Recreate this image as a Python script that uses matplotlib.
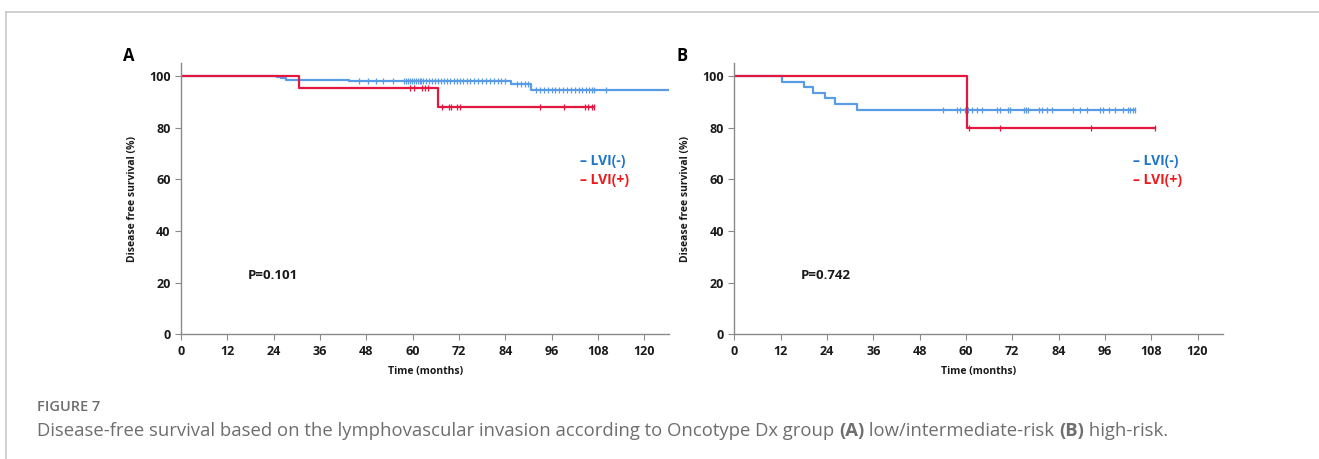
import numpy as np
import matplotlib.pyplot as plt
from matplotlib.lines import Line2D

# Panel A (low/intermediate risk) - step curves: event times and survival after each event
a_neg_times = [0, 24.8, 25.9, 27.2, 43.5, 85.4, 90.7, 128]
a_neg_surv = [100, 99.6, 99.1, 98.5, 97.9, 96.8, 94.6, 94.6]
a_neg_cens = [46.2, 48.5, 50.4, 52.3, 55.0, 57.8, 58.3, 58.8, 59.3, 59.8, 60.3, 60.8, 61.3,
              61.8, 62.3, 62.8, 63.5, 64.2, 65.0, 65.8, 66.6, 67.4, 68.2, 69.0, 69.8, 70.6,
              71.4, 72.2, 73.0, 74.0, 75.0, 76.0, 77.0, 78.0, 79.0, 80.0, 81.0, 82.0, 83.0,
              84.0, 87.0, 88.0, 89.0, 89.8, 92.0, 93.0, 94.0, 95.0, 96.0, 97.0, 98.0, 99.0,
              100.0, 101.0, 102.0, 103.0, 104.0, 104.8, 105.6, 106.4, 107.0, 110.0]
a_pos_times = [0, 30.5, 66.7, 107.0]
a_pos_surv = [100, 95.2, 88.0, 88.0]
a_pos_cens = [59.4, 60.3, 62.4, 63.3, 64.1, 67.6, 69.5, 70.0, 71.4, 72.3, 92.9, 99.3,
              104.7, 105.5, 106.6, 107.0]

# Panel B (high risk)
b_neg_times = [0, 12.4, 18.0, 20.3, 23.4, 26.1, 31.9, 103.8]
b_neg_surv = [100, 97.8, 95.6, 93.4, 91.3, 89.1, 87.0, 87.0]
b_neg_cens = [54.1, 57.8, 58.5, 59.8, 60.6, 61.5, 62.8, 64.1, 68.1, 68.8, 71.0, 71.4,
              75.1, 75.6, 76.1, 79.0, 79.6, 80.9, 82.2, 87.8, 89.6, 91.3, 94.7, 95.4,
              97.2, 98.6, 100.8, 102.1, 102.5, 103.2, 103.8]
b_pos_times = [0, 60.3, 109.0]
b_pos_surv = [100, 80.0, 80.0]
b_pos_cens = [60.7, 68.8, 92.3, 109.0]

p_values = ['P=0.101', 'P=0.742']
panel_labels = ['A', 'B']
x_ticks = list(range(0, 121, 12))
y_ticks = [0, 20, 40, 60, 80, 100]

BLUE_LINE = '#5a9be6'
RED_LINE = '#e3173f'
BLUE_TXT = '#1c74cc'
RED_TXT = '#f01818'

plt.rcParams['font.family'] = ['Open Sans', 'DejaVu Sans']

fig = plt.figure(figsize=(13.19, 4.59), dpi=100)

W, H = 1319, 459


def surv_at(times, surv, t):
    idx = np.searchsorted(times, t, side='right') - 1
    return surv[max(idx, 0)]


def draw_panel(left_px, neg, pos, pval, label):
    ax = fig.add_axes([left_px / W, 1 - 334.3 / H, 126.5 * 3.86 / W, (334.3 - 63.3) / H])
    ax.set_xlim(0, 126.5)
    ax.set_ylim(0, 104.9)
    for (times, surv, cens), col in [(neg, BLUE_LINE), (pos, RED_LINE)]:
        ax.step(times, surv, where='post', color=col, lw=1.6, clip_on=True)
        cy = [surv_at(times, surv, c) for c in cens]
        ax.plot(cens, cy, ls='none', marker='|', ms=5, mew=0.9, color=col)
    for s in ['top', 'right']:
        ax.spines[s].set_visible(False)
    for s in ['left', 'bottom']:
        ax.spines[s].set_color('#8a8a8a')
        ax.spines[s].set_linewidth(1.0)
    ax.set_xticks(x_ticks)
    ax.set_yticks(y_ticks)
    ax.tick_params(colors='#8a8a8a', labelcolor='#1a1a1a', length=4, width=0.8,
                   labelsize=9)
    for t in ax.get_xticklabels() + ax.get_yticklabels():
        t.set_fontweight('bold')
    ax.set_xlabel('Time (months)', fontsize=7.5, fontweight='bold', color='#1a1a1a', labelpad=6)
    ax.set_ylabel('Disease free survival (%)', fontsize=7.5, fontweight='bold',
                  color='#1a1a1a', labelpad=8)
    ax.text(17.3, 22.6, pval, fontsize=9.5, fontweight='bold', color='#1a1a1a', va='center')
    ax.text(103.4, 67.2, '\u2013 LVI(-)', fontsize=10, fontweight='bold', color=BLUE_TXT,
            va='center')
    ax.text(103.4, 59.7, '\u2013 LVI(+)', fontsize=10, fontweight='bold', color=RED_TXT,
            va='center')
    fig.text((left_px - 58) / W, 1 - 56 / H, label, fontsize=12, fontweight='bold',
             ha='left', va='center', color='black')
    return ax


draw_panel(181, (a_neg_times, a_neg_surv, a_neg_cens), (a_pos_times, a_pos_surv, a_pos_cens),
           p_values[0], panel_labels[0])
draw_panel(734.3, (b_neg_times, b_neg_surv, b_neg_cens), (b_pos_times, b_pos_surv, b_pos_cens),
           p_values[1], panel_labels[1])

# frame lines around the figure block
fig.add_artist(Line2D([6 / W, 1], [1 - 12 / H, 1 - 12 / H], color='#c8c8c8', lw=1.2))
fig.add_artist(Line2D([6 / W, 6 / W], [0, 1 - 12 / H], color='#c8c8c8', lw=1.2))

# caption
cap = fig.add_axes([0, 0, 1, 1], facecolor='none')
cap.axis('off')
cap.text(37 / W, 1 - 407 / H, 'FIGURE 7', fontsize=10.5, color='#6e6e6e', va='center',
         ha='left', fontweight='semibold')
pieces = [('Disease-free survival based on the lymphovascular invasion according to '
           'Oncotype Dx group ', 'normal'), ('(A)', 'bold'), (' low/intermediate-risk ', 'normal'),
          ('(B)', 'bold'), (' high-risk.', 'normal')]
prev = None
for txt, wt in pieces:
    if prev is None:
        prev = cap.text(37 / W, 1 - 436 / H, txt, fontsize=13.3, color='#6e6e6e',
                        va='baseline', ha='left', fontweight=wt)
    else:
        prev = cap.annotate(txt, xy=(1, 0), xycoords=prev, fontsize=13.3, color='#6e6e6e',
                            va='bottom', ha='left', fontweight=wt)

fig.savefig('out.png', dpi=100)
